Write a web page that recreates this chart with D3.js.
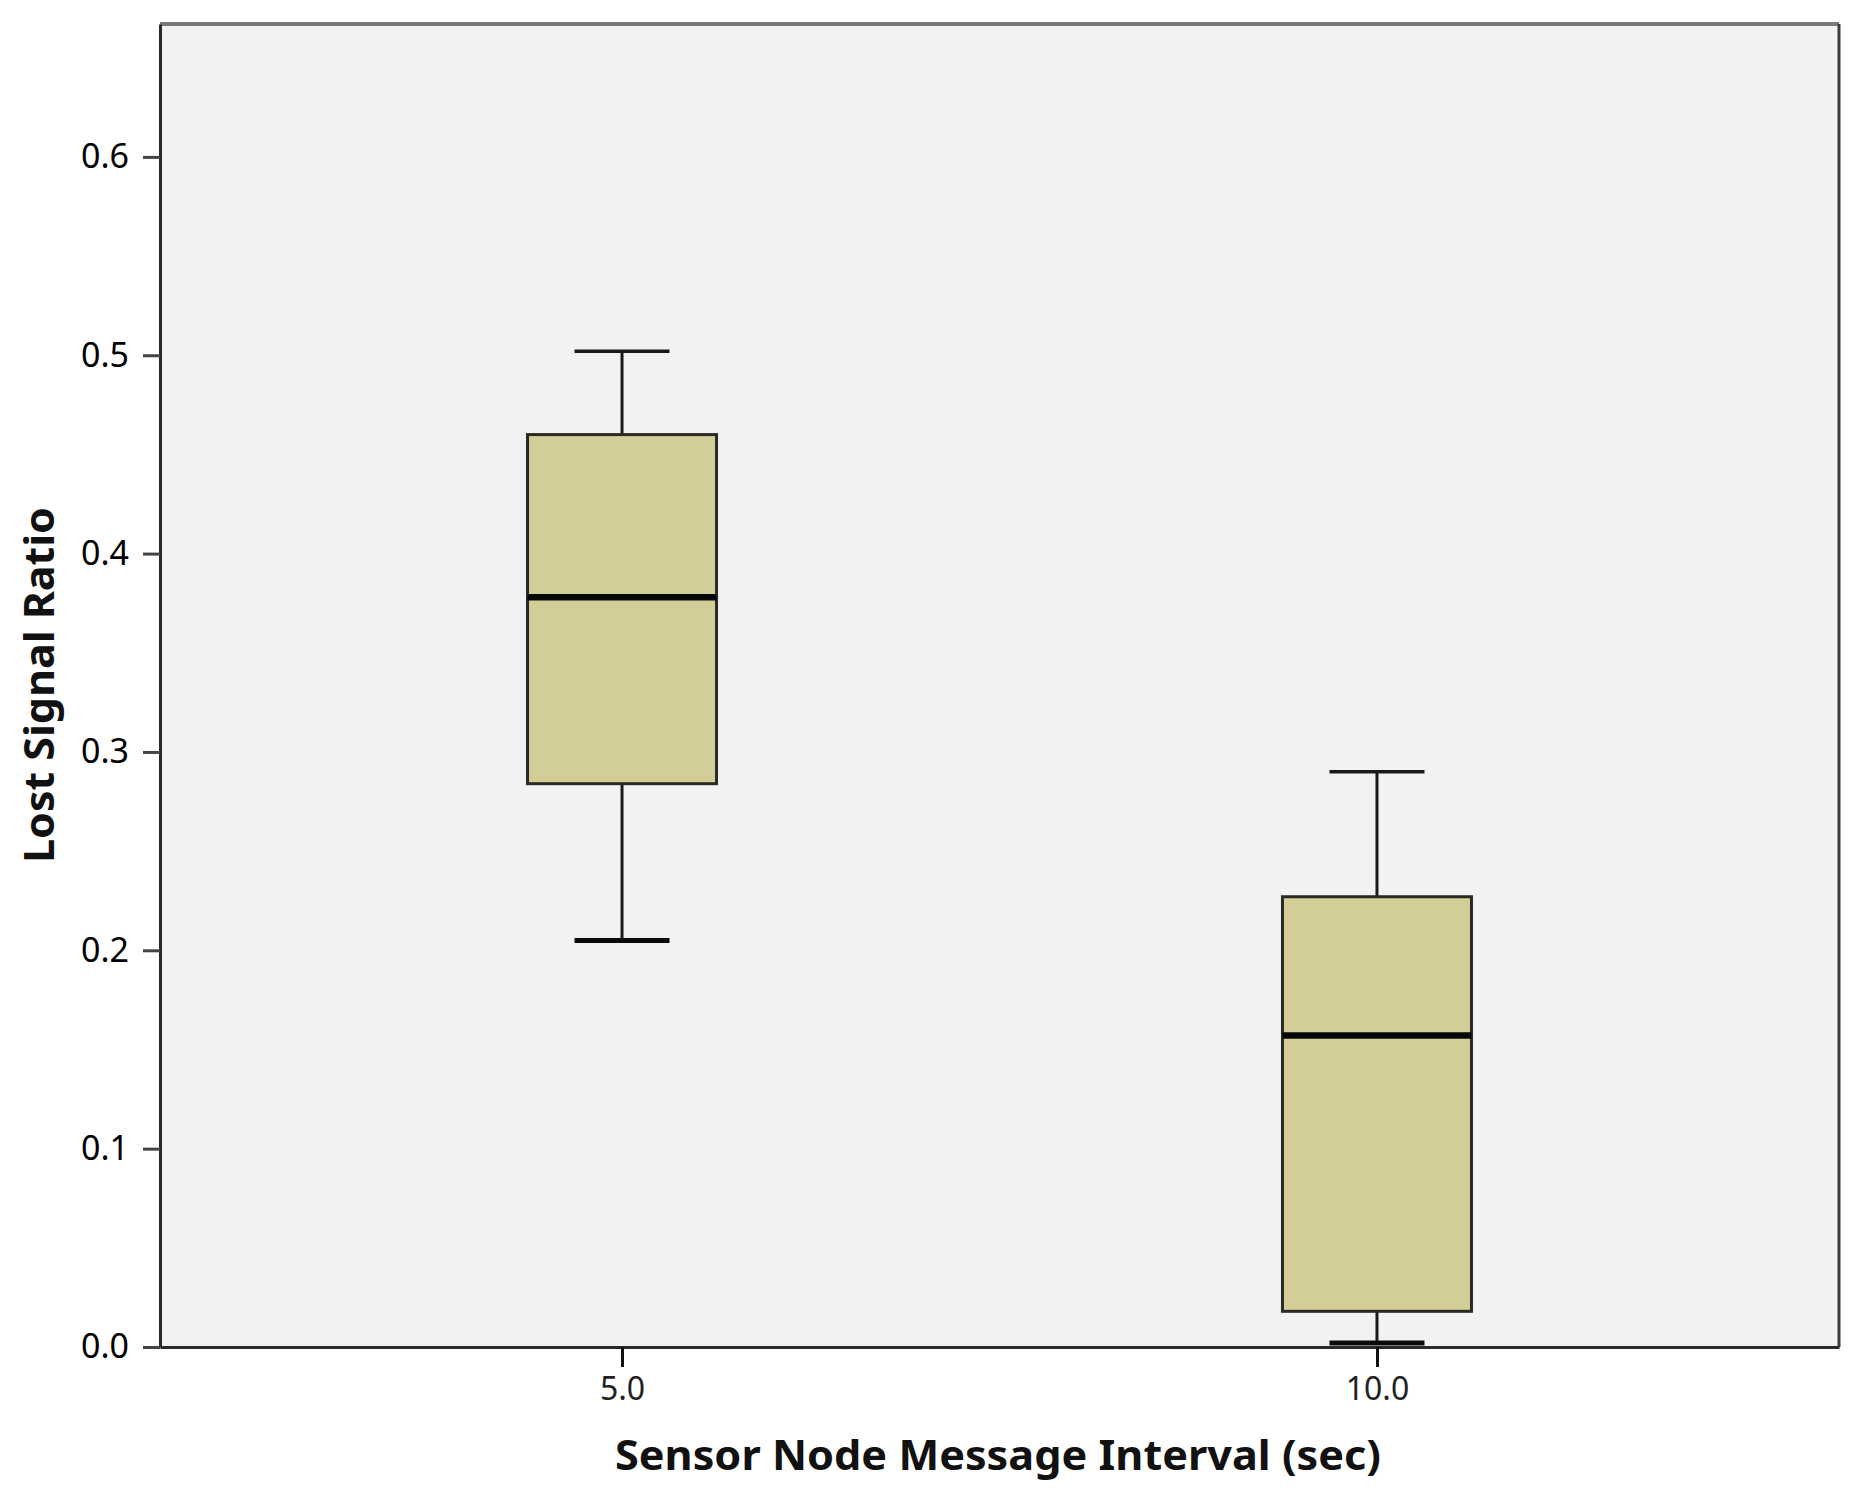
<!DOCTYPE html>
<html><head><meta charset="utf-8">
<script src="https://cdn.jsdelivr.net/npm/d3@7"></script>
<style>body{margin:0;background:#fff;} svg{display:block;}</style>
</head><body>
<script>
const categories = ["5.0", "10.0"];
const whiskerLow = [0.205, 0.002];
const q1 = [0.284, 0.018];
const medians = [0.378, 0.157];
const q3 = [0.460, 0.227];
const whiskerHigh = [0.502, 0.290];
const yTicks = [0.0, 0.1, 0.2, 0.3, 0.4, 0.5, 0.6];
const xTitle = "Sensor Node Message Interval (sec)";
const yTitle = "Lost Signal Ratio";

const W = 1862, H = 1499;
const m = {left:160, right:W-1839, top:24, bottom:H-1347};
const svg = d3.select("body").append("svg").attr("width", W).attr("height", H);
const iw = W - m.left - m.right, ih = H - m.top - m.bottom;
const g = svg.append("g").attr("transform", `translate(${m.left},${m.top})`);

const y = d3.scaleLinear().domain([0, 0.667]).range([ih, 0]);
const x = d3.scalePoint().domain(categories).range([0, iw]).padding(0.612);

g.append("rect").attr("width", iw).attr("height", ih).attr("fill", "#f2f2f2");

const boxW = 189, capW = 95;
const data = categories.map((c,i)=>({c, lo:whiskerLow[i], q1:q1[i], med:medians[i], q3:q3[i], hi:whiskerHigh[i]}));

const bx = g.selectAll(".box").data(data).enter().append("g");
// whiskers
bx.append("line").attr("x1", d=>x(d.c)).attr("x2", d=>x(d.c))
  .attr("y1", d=>y(d.hi)).attr("y2", d=>y(d.q3)).attr("stroke", "#1a1a1a").attr("stroke-width", 3);
bx.append("line").attr("x1", d=>x(d.c)).attr("x2", d=>x(d.c))
  .attr("y1", d=>y(d.q1)).attr("y2", d=>y(d.lo)).attr("stroke", "#1a1a1a").attr("stroke-width", 3);
bx.append("line").attr("x1", d=>x(d.c)-capW/2).attr("x2", d=>x(d.c)+capW/2)
  .attr("y1", d=>y(d.hi)).attr("y2", d=>y(d.hi)).attr("stroke", "#1a1a1a").attr("stroke-width", 3.5);
bx.append("line").attr("x1", d=>x(d.c)-capW/2).attr("x2", d=>x(d.c)+capW/2)
  .attr("y1", d=>y(d.lo)).attr("y2", d=>y(d.lo)).attr("stroke", "#0a0a0a").attr("stroke-width", 5);
// box
bx.append("rect").attr("x", d=>x(d.c)-boxW/2).attr("width", boxW)
  .attr("y", d=>y(d.q3)).attr("height", d=>y(d.q1)-y(d.q3))
  .attr("fill", "#d3ce98").attr("stroke", "#2a2a22").attr("stroke-width", 3);
bx.append("line").attr("x1", d=>x(d.c)-boxW/2).attr("x2", d=>x(d.c)+boxW/2)
  .attr("y1", d=>y(d.med)).attr("y2", d=>y(d.med)).attr("stroke", "#050808").attr("stroke-width", 6.5);

// frame top/right
g.append("line").attr("x1",0).attr("x2",iw).attr("y1",0).attr("y2",0).attr("stroke","#7a7a7a").attr("stroke-width",4);
g.append("line").attr("x1",iw).attr("x2",iw).attr("y1",0).attr("y2",ih).attr("stroke","#3c3c3c").attr("stroke-width",3);

// y axis
const ya = g.append("g").call(d3.axisLeft(y).tickValues(yTicks).tickFormat(d3.format(".1f")).tickSize(17).tickSizeOuter(0).tickPadding(14));
ya.select(".domain").attr("stroke","#2a2a2a").attr("stroke-width",3);
ya.selectAll(".tick line").attr("stroke","#444").attr("stroke-width",3);
ya.selectAll("text").attr("font-family","'Noto Sans', sans-serif").attr("font-size",34).attr("fill","#000");

// x axis
const xa = g.append("g").attr("transform",`translate(0,${ih})`).call(d3.axisBottom(x).tickSize(20).tickSizeOuter(0).tickPadding(10));
xa.select(".domain").attr("stroke","#2a2a2a").attr("stroke-width",3);
xa.selectAll(".tick line").attr("stroke","#111").attr("stroke-width",3);
xa.selectAll("text").attr("font-family","'Noto Sans', sans-serif").attr("font-size",32).attr("fill","#222");

// titles
svg.append("text").attr("x", 998).attr("y", 1470).attr("text-anchor","middle")
  .attr("font-family","'Noto Sans', sans-serif").attr("font-weight","bold").attr("font-size",42)
  .attr("textLength",766).attr("lengthAdjust","spacingAndGlyphs").attr("fill","#111").text(xTitle);
svg.append("text").attr("transform","translate(54,685) rotate(-90)").attr("text-anchor","middle")
  .attr("font-family","'Noto Sans', sans-serif").attr("font-weight","bold").attr("font-size",42)
  .attr("textLength",356).attr("lengthAdjust","spacingAndGlyphs").attr("fill","#111").text(yTitle);
</script>
</body></html>
